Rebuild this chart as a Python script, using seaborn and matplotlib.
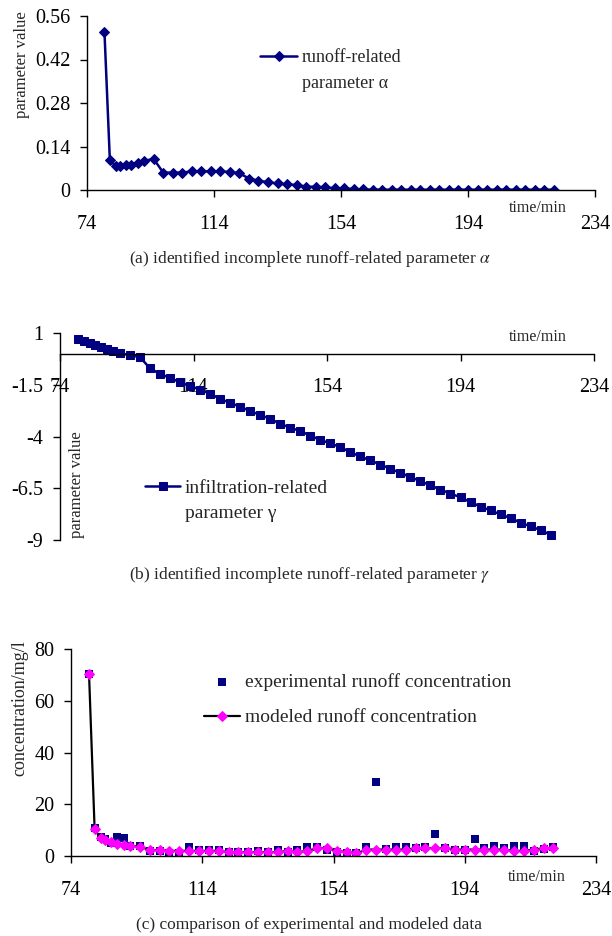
import matplotlib
matplotlib.use("Agg")
import matplotlib.pyplot as plt
import seaborn as sns
import pandas as pd

# time axis shared by all three panels (min)
time_min = [79.5, 81.2, 83, 84.5, 86.2, 88, 90, 92, 95,
            98, 101, 104, 107, 110, 113, 116, 119, 122, 125,
            128, 131, 134, 137, 140, 143, 146, 149, 152, 155,
            158, 161, 164, 167, 170, 173, 176, 179, 182, 185,
            188, 191, 194, 197, 200, 203, 206, 209, 212, 215,
            218, 221]

alpha_vals = [0.509, 0.096, 0.078, 0.077, 0.081, 0.082, 0.086, 0.094, 0.100,
              0.056, 0.056, 0.056, 0.060, 0.060, 0.060, 0.060, 0.058, 0.054, 0.037,
              0.030, 0.025, 0.021, 0.018, 0.016, 0.011, 0.010, 0.009, 0.005, 0.005,
              0.003, 0.002, 0.001, 0.001, 0.001, 0.001, 0.001, 0.001, 0.001, 0.001,
              0.001, 0.001, 0.001, 0.001, 0.001, 0.001, 0.001, 0.001, 0.001, 0.001,
              0.001, 0.001]

gamma_vals = [0.72, 0.64, 0.51, 0.43, 0.32, 0.24, 0.16, 0.03, -0.05,
              -0.16, -0.70, -0.97, -1.16, -1.37, -1.56, -1.72, -1.93, -2.17, -2.37,
              -2.55, -2.77, -2.95, -3.14, -3.38, -3.57, -3.73, -3.95, -4.16, -4.32,
              -4.51, -4.75, -4.96, -5.15, -5.35, -5.56, -5.75, -5.96, -6.15, -6.36,
              -6.56, -6.76, -6.93, -7.17, -7.38, -7.57, -7.76, -7.94, -8.16, -8.34,
              -8.52, -8.75]

conc_modeled = [70.3, 10.3, 7.0, 6.0, 5.3, 4.8, 4.3, 4.0, 3.6,
                2.3, 2.2, 2.0, 2.0, 2.0, 2.0, 2.0, 2.0, 1.5, 1.5,
                1.5, 1.5, 1.5, 1.5, 2.0, 1.5, 2.0, 3.0, 3.0, 2.0,
                1.5, 1.0, 2.5, 2.5, 2.5, 2.5, 2.5, 3.0, 3.0, 3.0,
                3.0, 2.5, 2.5, 2.5, 2.5, 2.5, 2.5, 2.0, 2.0, 2.5,
                3.0, 3.0]

conc_experimental = [70.3, 10.8, 7.5, 6.5, 5.0, 7.5, 7.0, 4.0, 3.8,
                     2.0, 2.0, 1.0, 1.0, 3.5, 2.5, 2.5, 2.2, 1.5, 1.5,
                     1.5, 2.0, 1.5, 2.5, 1.5, 2.2, 3.5, 3.3, 2.5, 1.5,
                     1.0, 1.0, 3.3, 28.7, 2.9, 3.5, 3.3, 3.0, 3.3, 8.4,
                     3.0, 2.2, 2.5, 6.4, 3.0, 3.8, 3.0, 3.8, 3.8, 2.0,
                     2.9, 3.5]

time_ticks = [74, 114, 154, 194, 234]

df = pd.DataFrame({"time": time_min, "alpha": alpha_vals, "gamma": gamma_vals,
                   "modeled": conc_modeled, "experimental": conc_experimental})

sns.set_theme(style="ticks")
plt.rcParams['font.family'] = ['Liberation Serif', 'DejaVu Serif']
plt.rcParams['mathtext.fontset'] = 'stix'

navy = "#000080"
W, H = 612, 936
fig = plt.figure(figsize=(W / 100, H / 100), dpi=100)


def px_axes(left, top, right, bottom):
    return fig.add_axes([left / W, 1 - bottom / H, (right - left) / W, (bottom - top) / H])


def style_axis(ax):
    for s in ("top", "right"):
        ax.spines[s].set_visible(False)
    for s in ("left", "bottom"):
        ax.spines[s].set_color("black")
        ax.spines[s].set_linewidth(1.0)
    ax.tick_params(axis="both", direction="out", length=5, width=1,
                   colors="black", labelsize=14.5)
    ax.tick_params(axis="x", pad=13)
    ax.tick_params(axis="y", pad=7)
    ax.set_xlim(74, 234)
    ax.set_xticks(time_ticks)
    ax.set_xlabel("")
    ax.set_ylabel("")


# (a) runoff-related parameter alpha
ax_a = px_axes(87, 16, 595, 190)
sns.lineplot(data=df, x="time", y="alpha", ax=ax_a, color=navy, linewidth=1.8,
             marker="D", markersize=5, markeredgecolor=navy, sort=False,
             label="runoff-related")
style_axis(ax_a)
ax_a.set_ylim(0, 0.56)
ax_a.set_yticks([0, 0.14, 0.28, 0.42, 0.56])
ax_a.set_yticklabels(["0", "0.14", "0.28", "0.42", "0.56"])
ax_a.legend(loc="center left", bbox_to_anchor=(260 / W, 1 - 58 / H),
            bbox_transform=fig.transFigure, frameon=False, fontsize=13,
            handlelength=2.05, handletextpad=0.28, borderpad=0, borderaxespad=0)
fig.text(302 / W, 1 - 83 / H, "parameter α", fontsize=13, va="center", ha="left")
fig.text(22 / W, 1 - 65 / H, "parameter value", rotation=90, fontsize=12,
         va="center", ha="center")
fig.text(538 / W, 1 - 208 / H, "time/min", fontsize=11.5, va="center", ha="center")
fig.text(310 / W, 1 - 259 / H,
         "(a) identified incomplete runoff-related parameter $\\alpha$",
         fontsize=12.5, va="center", ha="center")

# (b) infiltration-related parameter gamma
ax_b = px_axes(60, 333.3, 594, 540)
sns.lineplot(data=df, x="time", y="gamma", ax=ax_b, color=navy, linewidth=1.8,
             marker="s", markersize=5.3, markeredgecolor=navy, sort=False,
             label="infiltration-related")
style_axis(ax_b)
ax_b.set_ylim(-9, 1)
ax_b.set_yticks([1, -1.5, -4, -6.5, -9])
ax_b.set_yticklabels(["1", "-1.5", "-4", "-6.5", "-9"])
ax_b.spines["bottom"].set_position(("data", 0))
ax_b.tick_params(axis="x", pad=12)
ax_b.legend(loc="center left", bbox_to_anchor=(145 / W, 1 - 488 / H),
            bbox_transform=fig.transFigure, frameon=False, fontsize=14,
            handlelength=1.8, handletextpad=0.26, borderpad=0, borderaxespad=0)
fig.text(185 / W, 1 - 514 / H, "parameter γ", fontsize=14, va="center", ha="left")
fig.text(77 / W, 1 - 485 / H, "parameter value", rotation=90, fontsize=12,
         va="center", ha="center")
fig.text(538 / W, 1 - 337 / H, "time/min", fontsize=11.5, va="center", ha="center")
fig.text(310 / W, 1 - 575 / H,
         "(b) identified incomplete runoff-related parameter $\\gamma$",
         fontsize=12.5, va="center", ha="center")

# (c) experimental vs modeled concentration
ax_c = px_axes(71, 649.3, 596, 856)
sns.scatterplot(data=df, x="time", y="experimental", ax=ax_c, color=navy,
                marker="s", s=40, edgecolor=navy, linewidth=0,
                label="experimental runoff concentration")
sns.lineplot(data=df, x="time", y="modeled", ax=ax_c, color="black", linewidth=1.6,
             marker="D", markersize=5, markerfacecolor="#FF00FF",
             markeredgecolor="#FF00FF", sort=False,
             label="modeled runoff concentration")
style_axis(ax_c)
ax_c.set_ylim(0, 80)
ax_c.set_yticks([0, 20, 40, 60, 80])
ax_c.legend(loc="center left", bbox_to_anchor=(204 / W, 1 - 700 / H),
            bbox_transform=fig.transFigure, frameon=False, fontsize=14,
            handlelength=1.86, handletextpad=0.26, labelspacing=0.9,
            borderpad=0, borderaxespad=0)
fig.text(20 / W, 1 - 708 / H, "concentration/mg/l", rotation=90, fontsize=13,
         va="center", ha="center")
fig.text(537 / W, 1 - 877 / H, "time/min", fontsize=11.5, va="center", ha="center")
fig.text(309 / W, 1 - 925 / H, "(c) comparison of experimental and modeled data",
         fontsize=12.5, va="center", ha="center")

fig.savefig("out.png", dpi=100)
